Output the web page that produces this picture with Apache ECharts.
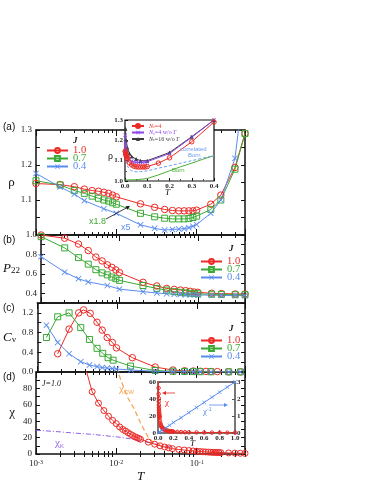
<!DOCTYPE html>
<html>
<head>
<meta charset="utf-8">
<script src="https://cdn.jsdelivr.net/npm/echarts@6/dist/echarts.min.js"></script>
<style>
  html, body { margin: 0; padding: 0; background: #fff; }
  #chart { width: 374px; height: 484px; }
</style>
</head>
<body>
<div id="chart"></div>
<script>
// ---- data ----
var tMain = [0.001, 0.002, 0.003, 0.004, 0.005, 0.006, 0.007, 0.008, 0.009, 0.01, 0.02, 0.03, 0.04, 0.05, 0.06, 0.07, 0.08, 0.09, 0.1, 0.15, 0.2, 0.3, 0.4];
var tBlue = [0.001, 0.002, 0.003, 0.004, 0.007, 0.01, 0.02, 0.03, 0.04, 0.05, 0.06, 0.07, 0.08, 0.09, 0.1, 0.15, 0.2, 0.3, 0.4];

var rhoRed   = [1.147, 1.144, 1.138, 1.131, 1.127, 1.125, 1.122, 1.119, 1.114, 1.109, 1.089, 1.079, 1.073, 1.070, 1.069, 1.069, 1.069, 1.069, 1.071, 1.088, 1.114, 1.193, 1.290];
var rhoGreen = [1.155, 1.143, 1.127, 1.119, 1.111, 1.105, 1.100, 1.097, 1.092, 1.088, 1.062, 1.052, 1.048, 1.046, 1.046, 1.046, 1.047, 1.050, 1.054, 1.073, 1.100, 1.188, 1.290];
var rhoBlue  = [1.176, 1.137, 1.117, 1.098, 1.075, 1.062, 1.029, 1.019, 1.014, 1.016, 1.017, 1.018, 1.021, 1.025, 1.030, 1.062, 1.100, 1.219, 1.450];

var p22Red   = [1.000, 0.967, 0.907, 0.840, 0.773, 0.733, 0.693, 0.667, 0.640, 0.613, 0.513, 0.475, 0.450, 0.440, 0.433, 0.427, 0.420, 0.413, 0.410, 0.400, 0.397, 0.393, 0.393];
var p22Green = [0.983, 0.867, 0.767, 0.700, 0.643, 0.610, 0.590, 0.567, 0.550, 0.533, 0.480, 0.450, 0.433, 0.417, 0.410, 0.405, 0.400, 0.398, 0.395, 0.390, 0.388, 0.385, 0.385];
var p22Blue  = [0.777, 0.617, 0.550, 0.517, 0.480, 0.443, 0.417, 0.403, 0.395, 0.390, 0.388, 0.386, 0.385, 0.384, 0.383, 0.380, 0.378, 0.377, 0.377];

var tCvRed   = [0.0018, 0.0025, 0.0033, 0.0038, 0.0046, 0.0056, 0.0065, 0.0075, 0.0087, 0.0098, 0.0155, 0.03, 0.05, 0.07, 0.09, 0.11, 0.13, 0.15, 0.18, 0.25, 0.35];
var cvRed    = [0.37, 0.87, 1.20, 1.26, 1.19, 1.01, 0.85, 0.70, 0.60, 0.49, 0.29, 0.10, 0.04, 0.025, 0.02, 0.015, 0.012, 0.010, 0.008, 0.005, 0.003];
var tCvGreen = [0.0013, 0.0018, 0.0025, 0.0035, 0.0045, 0.0056, 0.0066, 0.0077, 0.0089, 0.0147, 0.03, 0.05, 0.07, 0.09, 0.11, 0.15, 0.25, 0.35];
var cvGreen  = [0.70, 1.12, 1.20, 0.90, 0.66, 0.48, 0.38, 0.29, 0.24, 0.12, 0.03, 0.015, 0.01, 0.008, 0.006, 0.005, 0.003, 0.002];
var tCvBlue  = [0.0013, 0.0018, 0.0025, 0.0035, 0.0045, 0.0056, 0.0065, 0.0075, 0.0087, 0.0098, 0.015, 0.03, 0.05, 0.07, 0.09, 0.11, 0.15, 0.25, 0.35];
var cvBlue   = [0.95, 0.60, 0.37, 0.21, 0.14, 0.11, 0.09, 0.08, 0.07, 0.06, 0.04, 0.015, 0.008, 0.005, 0.004, 0.003, 0.002, 0.001, 0.001];

var tChi = [0.004, 0.005, 0.006, 0.007, 0.008, 0.009, 0.010, 0.011, 0.012, 0.013, 0.014, 0.015, 0.016, 0.017, 0.018, 0.019, 0.020, 0.025, 0.030, 0.035, 0.040, 0.045, 0.050, 0.06, 0.07, 0.08, 0.09, 0.10, 0.11, 0.12, 0.13, 0.14, 0.15, 0.16, 0.17, 0.18, 0.19, 0.2, 0.25, 0.3, 0.35, 0.4, 0.5, 0.6, 0.7, 0.8, 0.9, 1.0];
var chi  = [110, 76, 62, 53, 46, 41, 37, 33, 30, 28, 26, 24, 22.5, 21, 20, 19, 18, 14.5, 12, 10, 8.5, 7.5, 6.5, 5.5, 4.8, 4.2, 3.7, 3.3, 3.0, 2.7, 2.5, 2.3, 2.1, 2.0, 1.9, 1.8, 1.7, 1.6, 1.3, 1.1, 0.9, 0.8, 0.65, 0.55, 0.47, 0.42, 0.37, 0.33];
var tCW   = [0.0095, 0.0105, 0.0115, 0.0125, 0.014, 0.0167, 0.02, 0.025, 0.03, 0.04, 0.05];
var chiCW = [115, 100, 89, 80, 68, 55, 38, 20, 13, 8.5, 6.5];
var tK    = [0.001, 0.002, 0.003, 0.005, 0.007, 0.01, 0.015, 0.02, 0.03, 0.04, 0.05];
var chiK  = [29, 27, 25.5, 24, 22.5, 21, 18.5, 16, 12.5, 10, 8];
var tInv   = [0.01, 0.02, 0.05, 0.1, 0.15, 0.2, 0.3, 0.4, 0.5, 0.6, 0.7, 0.8, 0.9, 1.0];
var chiInv = [0.03, 0.06, 0.15, 0.30, 0.45, 0.62, 0.90, 1.20, 1.50, 1.80, 2.10, 2.40, 2.70, 3.00];

// inset (a)
var tNoG4   = [0.001, 0.002, 0.003, 0.004, 0.005, 0.006, 0.008, 0.01, 0.02, 0.03, 0.04, 0.05, 0.06, 0.07, 0.08, 0.09, 0.1, 0.2, 0.3, 0.4];
var rhoNoG4 = [1.225, 1.19, 1.17, 1.155, 1.145, 1.138, 1.128, 1.12, 1.105, 1.098, 1.094, 1.092, 1.091, 1.091, 1.092, 1.093, 1.095, 1.135, 1.215, 1.30];
var tNoG16   = [0.002, 0.005, 0.01, 0.02, 0.03, 0.05, 0.07, 0.1, 0.2, 0.3, 0.4];
var rhoNoG16 = [1.258, 1.20, 1.165, 1.135, 1.12, 1.108, 1.10, 1.10, 1.14, 1.218, 1.30];
var tCorr   = [0.005, 0.01, 0.02, 0.03, 0.05, 0.07, 0.1, 0.15, 0.2, 0.3, 0.4];
var rhoCorr = [1.10, 1.075, 1.058, 1.05, 1.045, 1.046, 1.05, 1.063, 1.075, 1.10, 1.125];
var tBorn   = [0, 0.05, 0.1, 0.15, 0.2, 0.25, 0.3, 0.35, 0.4];
var rhoBorn = [1.005, 1.006, 1.012, 1.03, 1.05, 1.07, 1.088, 1.107, 1.125];

// tick positions on the log axis
var xMinorTicks = [0.002, 0.003, 0.004, 0.005, 0.006, 0.007, 0.008, 0.009, 0.02, 0.03, 0.04, 0.05, 0.06, 0.07, 0.08, 0.09, 0.2, 0.3, 0.4];
var yLabels = [[1.1, 1.2, 1.3], [0.4, 0.6, 0.8, 1.0], [0, 0.4, 0.8, 1.2], [0, 20, 40, 60, 80]];

var red = '#ec2a26', green = '#3aaa35', blue = '#5a8cf0';
var purple = '#8b45ea', dark = '#3a3a3a', orange = '#f5a04a', violet = '#9060ee';
var serif = 'Liberation Serif', sans = 'Liberation Sans';

function zip(xs, ys) { return xs.map(function (x, i) { return [x, ys[i]]; }); }

var crossPath = 'path://M0,1L1,0L5,4L9,0L10,1L6,5L10,9L9,10L5,6L1,10L0,9L4,5Z';
function marker(kind, c) {
    if (kind === 'o') return { symbol: 'circle', symbolSize: 6.5, itemStyle: { color: 'rgba(255,255,255,0)', borderColor: c, borderWidth: 1 } };
    if (kind === 's') return { symbol: 'rect', symbolSize: 6, itemStyle: { color: 'rgba(255,255,255,0)', borderColor: c, borderWidth: 1 } };
    if (kind === 'x') return { symbol: crossPath, symbolSize: 6, itemStyle: { color: c, borderWidth: 0 } };
    if (kind === '^') return { symbol: 'triangle', symbolSize: 5, itemStyle: { color: c, borderWidth: 0 } };
    return { symbol: 'none', itemStyle: { color: c } };
}
function line(name, xi, yi, xs, ys, c, kind, extra) {
    var s = { name: name, type: 'line', xAxisIndex: xi, yAxisIndex: yi, data: zip(xs, ys),
        lineStyle: { color: c, width: 1 }, showSymbol: kind !== '', animation: false, z: 2 };
    var m = marker(kind, c);
    for (var k in m) s[k] = m[k];
    for (var e in extra || {}) s[e] = extra[e];
    return s;
}

// ---- layout of the four stacked panels ----
var panels = [
    { top: 130, height: 105, min: 1.0, max: 1.3, interval: 0.05, name: 'ρ' },
    { top: 235, height: 68, min: 0.3, max: 1.0, interval: 0.1, name: '{i|P}{s|22}' },
    { top: 303, height: 69, min: 0, max: 1.4, interval: 0.2, name: '{i|C}{s|v}' },
    { top: 372, height: 87, min: 0, max: 100, interval: 10, name: 'χ' }
];

var grids = [], xAxes = [], yAxes = [];
var axisColor = '#111';
panels.forEach(function (p, i) {
    grids.push({ left: 36, right: 129, top: p.top, height: p.height });
    ['bottom', 'top'].forEach(function (pos) {
        xAxes.push({
            type: 'log', logBase: 10, gridIndex: i, min: 0.001, max: 0.4, position: pos,
            axisLine: { show: true, onZero: false, lineStyle: { color: axisColor, width: 1.5 } },
            axisTick: { show: true, inside: true, length: 6, lineStyle: { color: axisColor } },
            axisLabel: {
                show: i === 3 && pos === 'bottom', margin: 5, fontFamily: serif, fontSize: 9, color: '#222',
                formatter: function (v) {
                    var e = Math.log10(v);
                    if (Math.abs(e - Math.round(e)) > 1e-6) return '';
                    return '10{s|' + Math.round(e) + '}';
                },
                rich: { s: { fontSize: 6, verticalAlign: 'top', fontFamily: serif, color: '#222' } }
            },
            splitLine: { show: false },
            name: i === 3 && pos === 'bottom' ? 'T' : '',
            nameLocation: 'middle', nameGap: 16,
            nameTextStyle: { fontFamily: serif, fontStyle: 'italic', fontSize: 13, color: '#111' }
        });
        xAxes.push({
            type: 'log', logBase: 10, gridIndex: i, min: 0.001, max: 0.4, position: pos,
            axisLine: { show: false },
            axisTick: { show: true, inside: true, length: 3, customValues: xMinorTicks, lineStyle: { color: axisColor } },
            axisLabel: { show: false }, splitLine: { show: false }
        });
    });
    var labs = yLabels[i];
    ['left', 'right'].forEach(function (pos) {
        yAxes.push({
            type: 'value', gridIndex: i, min: p.min, max: p.max, interval: p.interval, position: pos,
            axisLine: { show: true, onZero: false, lineStyle: { color: axisColor, width: 1.5 } },
            axisTick: { show: true, inside: true, length: 4, lineStyle: { color: axisColor } },
            axisLabel: {
                show: pos === 'left', margin: 4, fontFamily: serif, fontSize: 9, color: '#222',
                formatter: function (v) {
                    for (var k = 0; k < labs.length; k++) {
                        if (Math.abs(v - labs[k]) < 1e-6) return i === 3 ? String(labs[k]) : labs[k].toFixed(1);
                    }
                    return '';
                }
            },
            splitLine: { show: false },
            name: pos === 'left' ? p.name : '', nameLocation: 'middle', nameRotate: 0, nameGap: 21,
            nameTextStyle: {
                fontFamily: serif, fontSize: 13, color: '#111',
                rich: { i: { fontStyle: 'italic', fontSize: 13, fontFamily: serif }, s: { fontSize: 9, verticalAlign: 'bottom', fontFamily: serif } }
            }
        });
    });
});

// insets
grids.push({ left: 125, top: 120, width: 89, height: 61, show: true, backgroundColor: '#fff', borderColor: '#111', borderWidth: 1.2, z: 10 });
grids.push({ left: 158, top: 382, width: 77, height: 51, show: true, backgroundColor: '#fff', borderColor: '#777', borderWidth: 2, z: 10 });
var insetLabel = { fontFamily: serif, fontSize: 7, fontWeight: 'bold', color: '#222', margin: 2 };
xAxes.push({ type: 'value', gridIndex: 4, min: 0, max: 0.4, interval: 0.1, z: 11,
    axisLine: { show: false }, axisTick: { inside: true, length: 3, lineStyle: { color: axisColor } },
    minorTick: { show: true, splitNumber: 2, length: 2 },
    axisLabel: Object.assign({ formatter: function (v) { return v.toFixed(1); } }, insetLabel), splitLine: { show: false } });
xAxes.push({ type: 'value', gridIndex: 5, min: 0, max: 1, interval: 0.2, z: 11,
    axisLine: { show: false }, axisTick: { inside: true, length: 3, lineStyle: { color: '#555' } },
    axisLabel: Object.assign({ formatter: function (v) { return v.toFixed(1); } }, insetLabel), splitLine: { show: false } });
yAxes.push({ type: 'value', gridIndex: 4, min: 1.0, max: 1.3, interval: 0.1, z: 11,
    axisLine: { show: false }, axisTick: { inside: true, length: 3, lineStyle: { color: axisColor } },
    minorTick: { show: true, splitNumber: 2, length: 2 },
    axisLabel: Object.assign({ formatter: function (v) { return v.toFixed(1); } }, insetLabel), splitLine: { show: false } });
yAxes.push({ type: 'value', gridIndex: 5, min: 0, max: 60, interval: 20, z: 11, position: 'left',
    axisLine: { show: false }, axisTick: { inside: true, length: 3, lineStyle: { color: '#555' } },
    axisLabel: insetLabel, splitLine: { show: false } });
yAxes.push({ type: 'value', gridIndex: 5, min: 0, max: 3, interval: 1, z: 11, position: 'right',
    axisLine: { show: false }, axisTick: { inside: true, length: 3, lineStyle: { color: '#555' } },
    axisLabel: insetLabel, splitLine: { show: false } });

var series = [
    line('1.0', 0, 0, tMain, rhoRed, red, 'o'),
    line('0.7', 0, 0, tMain, rhoGreen, green, 's'),
    line('0.4', 0, 0, tBlue, rhoBlue, blue, 'x'),
    line('1.0', 4, 2, tMain, p22Red, red, 'o'),
    line('0.7', 4, 2, tMain, p22Green, green, 's'),
    line('0.4', 4, 2, tBlue, p22Blue, blue, 'x'),
    line('1.0', 8, 4, tCvRed, cvRed, red, 'o'),
    line('0.7', 8, 4, tCvGreen, cvGreen, green, 's'),
    line('0.4', 8, 4, tCvBlue, cvBlue, blue, 'x'),
    line('chiK', 12, 6, tK, chiK, violet, '', { lineStyle: { color: violet, width: 1, type: [5, 2, 1, 2] } }),
    line('chiCW', 12, 6, tCW, chiCW, orange, '', { lineStyle: { color: orange, width: 1.2, type: [5, 3] } }),
    line('chi', 12, 6, tChi, chi, red, 'o', { symbolSize: 6 }),
    // inset (a)
    line('Born', 16, 8, tBorn, rhoBorn, '#4caf35', '', { z: 12 }),
    line('corr', 16, 8, tCorr, rhoCorr, '#6d9cf2', '', { z: 12, lineStyle: { color: '#6d9cf2', width: 1, type: [3, 2] } }),
    line('Nc=16 w/o Γ', 16, 8, tNoG16, rhoNoG16, dark, '^', { z: 12, symbolSize: 4 }),
    line('Nc=4 w/o Γ', 16, 8, tNoG4, rhoNoG4, purple, 'x', { z: 12, symbolSize: 4 }),
    line('Nc=4', 16, 8, tMain, rhoRed, red, 'o', { z: 12, symbolSize: 4.5 }),
    // inset (d)
    line('chi-in', 17, 9, tChi, chi, red, 'o', { z: 12, symbolSize: 3.5 }),
    line('inv', 17, 10, tInv, chiInv, blue, 'x', { z: 12, symbolSize: 4 })
];

function jLegend(left, top) {
    return {
        data: [{ name: '1.0', textStyle: { color: red } }, { name: '0.7', textStyle: { color: green } }, { name: '0.4', textStyle: { color: blue } }],
        orient: 'vertical', left: left, top: top, padding: 0, itemWidth: 21, itemHeight: 6, itemGap: -3,
        selectedMode: false, textStyle: { fontFamily: serif, fontSize: 10.5, lineHeight: 9 }
    };
}
var legends = [jLegend(46, 145), jLegend(200, 256), jLegend(200, 335), {
    data: [{ name: 'Nc=4', textStyle: { color: red } }, { name: 'Nc=4 w/o Γ', textStyle: { color: purple } }, { name: 'Nc=16 w/o Γ', textStyle: { color: dark } }],
    orient: 'vertical', left: 131, top: 123, padding: 0, itemWidth: 12, itemHeight: 5, itemGap: 0.5, z: 14,
    selectedMode: false,
    formatter: function (n) { return '{i|N}{s|c}' + n.slice(2); },
    textStyle: { fontFamily: serif, fontSize: 6, lineHeight: 6,
        rich: { i: { fontStyle: 'italic', fontSize: 6 }, s: { fontSize: 4, verticalAlign: 'bottom' } } }
}];

function txt(x, y, text, style) {
    var st = { text: text, fontFamily: serif, fontSize: 10, fill: '#111', textAlign: 'left', textVerticalAlign: 'middle' };
    for (var k in style || {}) st[k] = style[k];
    return { type: 'text', left: x, top: y, z: 20, style: st };
}
function arrow(x1, y1, x2, y2, c) {
    var a = Math.atan2(y2 - y1, x2 - x1), L = 4, W = 2;
    var bx = x2 - L * Math.cos(a), by = y2 - L * Math.sin(a);
    return [
        { type: 'line', z: 20, shape: { x1: x1, y1: y1, x2: bx, y2: by }, style: { stroke: c, lineWidth: 0.8 } },
        { type: 'polygon', z: 20, shape: { points: [[x2, y2], [bx - W * Math.sin(a), by + W * Math.cos(a)], [bx + W * Math.sin(a), by - W * Math.cos(a)]] }, style: { fill: c } }
    ];
}

var graphics = [
    txt(3, 122, '(a)', { fontFamily: sans, fontSize: 10 }),
    txt(3, 235, '(b)', { fontFamily: sans, fontSize: 10 }),
    txt(3, 303, '(c)', { fontFamily: sans, fontSize: 10 }),
    txt(3, 372, '(d)', { fontFamily: sans, fontSize: 10 }),
    txt(73, 136, 'J', { fontStyle: 'italic', fontWeight: 'bold', fontSize: 9 }),
    txt(229, 244, 'J', { fontStyle: 'italic', fontWeight: 'bold', fontSize: 9 }),
    txt(229, 324, 'J', { fontStyle: 'italic', fontWeight: 'bold', fontSize: 9 }),
    txt(42, 380, 'J=1.0', { fontStyle: 'italic', fontSize: 8 }),
    txt(89, 217, 'x1.8', { fontFamily: sans, fontSize: 9, fill: green }),
    txt(121, 223, 'x5', { fontFamily: sans, fontSize: 9, fill: blue }),
    txt(108, 151, 'ρ', { fontSize: 10 }),
    txt(165, 188, 'T', { fontStyle: 'italic', fontSize: 9 }),
    txt(180, 146, 'correlated', { fontFamily: sans, fontSize: 6, fill: '#6d9cf2' }),
    txt(188, 152, 'Born', { fontFamily: sans, fontSize: 6, fill: '#6d9cf2' }),
    txt(172, 167, 'Born', { fontFamily: sans, fontSize: 6, fill: '#4caf35' }),
    txt(190, 439, 'T', { fontStyle: 'italic', fontSize: 9 }),
    txt(165, 398, 'χ', { fontSize: 9, fill: red }),
    txt(203, 407, 'χ{s|-1}', { fontSize: 9, fill: blue, rich: { s: { fontSize: 5, verticalAlign: 'top', fill: blue } } }),
    txt(119, 384, 'χ{s|CW}', { fontSize: 11, fill: orange, rich: { s: { fontSize: 6, verticalAlign: 'bottom', fill: orange } } }),
    txt(55, 438, 'χ{s|K}', { fontSize: 11, fill: violet, rich: { s: { fontSize: 6, verticalAlign: 'bottom', fill: violet } } })
].concat(arrow(106, 219, 130, 206, '#111'), arrow(175, 393, 162, 393, red), arrow(209, 405, 228, 405, blue));

var chart = echarts.init(document.getElementById('chart'), null, { renderer: 'canvas' });
chart.setOption({
    backgroundColor: '#fff',
    animation: false,
    grid: grids,
    xAxis: xAxes,
    yAxis: yAxes,
    legend: legends,
    series: series,
    graphic: graphics
});
</script>
</body>
</html>
